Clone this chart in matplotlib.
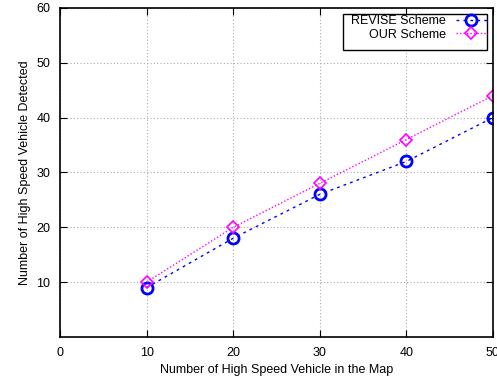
import matplotlib
matplotlib.use("Agg")
from matplotlib import pyplot as plt
from matplotlib.patches import Rectangle

plt.rcParams['font.family'] = ['Liberation Sans', 'DejaVu Sans']

vehicles = [10, 20, 30, 40, 50]
revise = [9, 18, 26, 32, 40]
ours = [10, 20, 28, 36, 44]

fig = plt.figure(figsize=(4.97, 3.78), dpi=100)
ax = fig.add_axes([0.1207, 0.1085, 0.871, 0.8705])

ax.plot(vehicles, revise, color="#0000ff", linestyle=(0, (2, 3)), linewidth=1,
        marker="o", markersize=8, markerfacecolor="none", markeredgewidth=2,
        label="REVISE Scheme")
ax.plot(vehicles, ours, color="#ff00ff", linestyle=(0, (1, 1.5)), linewidth=1,
        marker="D", markersize=6, markerfacecolor="none", markeredgewidth=1.2,
        label="OUR Scheme")

ax.set_xlim(0, 50)
ax.set_ylim(0, 60)
ax.set_xticks([0, 10, 20, 30, 40, 50])
ax.set_yticks([10, 20, 30, 40, 50, 60])
ax.tick_params(direction="in", top=True, right=True, labelsize=9, length=5, pad=7)
ax.grid(True, color="#aaaaaa", linestyle=(0, (1, 2)), linewidth=0.8)
for s in ax.spines.values():
    s.set_linewidth(1.2)

ax.set_xlabel("Number of High Speed Vehicle in the Map", fontsize=9)
ax.set_ylabel("Number of High Speed Vehicle Detected", fontsize=9)

# gnuplot-style key box, taller than its entries
ax.add_patch(Rectangle((0.654, 0.872), 0.332, 0.11, transform=ax.transAxes,
                       facecolor="white", edgecolor="black", linewidth=1, zorder=4))

leg = ax.legend(loc="upper right", bbox_to_anchor=(0.992, 0.985), markerfirst=False,
                frameon=False, fontsize=9, borderpad=0.2, labelspacing=0.1,
                handlelength=2.5, borderaxespad=0)
leg.set_zorder(6)
for t in leg.get_texts():
    t.set_ha("right")

fig.savefig("out.png", dpi=100)
